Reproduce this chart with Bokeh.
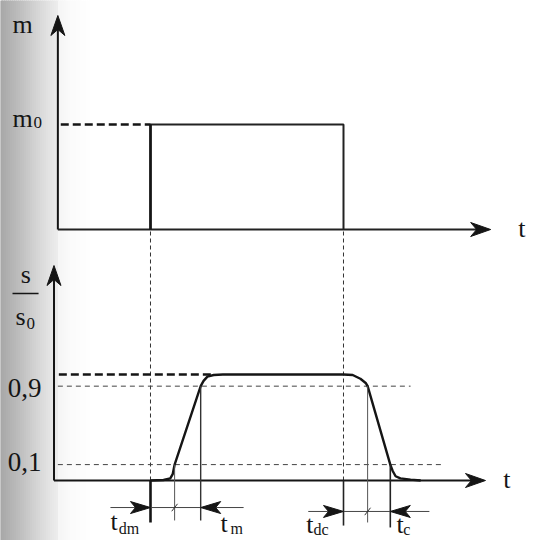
import numpy as np
from bokeh.plotting import figure
from bokeh.models import Range1d
from bokeh.core.properties import value
from bokeh.embed import file_html
from bokeh.resources import INLINE

# ---------------- data (time in arbitrary units) ----------------
t_on = 20.0          # command switched on
t_off = 60.0         # command switched off
m_pulse_t = [20.0, 20.0, 60.0, 60.0]
m_pulse_v = [0.0, 1.0, 1.0, 0.0]

# normalised response s/s0
s_t = [20.0, 22.7, 24.1, 24.6, 25.0, 30.4, 31.0, 31.8, 33.1, 35.0,
       60.0, 61.9, 63.5, 64.6, 65.0, 69.7, 70.2, 70.8, 71.8, 73.9, 76.0]
s_v = [0.0, 0.005, 0.02, 0.06, 0.15, 0.89, 0.94, 0.98, 0.995, 1.0,
       1.0, 0.995, 0.96, 0.92, 0.89, 0.15, 0.09, 0.04, 0.02, 0.008, 0.0]

level_lo, level_hi = 0.15, 0.89
level_labels = ["0,1", "0,9"]
t_rise10, t_rise90 = 25.0, 30.4
t_fall90, t_fall10 = 65.0, 69.7

# ---------------- ranges ----------------
W, H = 536, 540
X_START, X_END = -11.088, 100.0
S_START, S_END = -0.5660, 4.5283
M_START, M_END = -2.9619, 2.1810
SX = W / (X_END - X_START)
SY_S = H / (S_END - S_START)
SY_M = H / (M_END - M_START)

FONT = value("Liberation Serif")
INK = "#151515"

p = figure(width=W, height=H, x_range=Range1d(X_START, X_END),
           y_range=Range1d(S_START, S_END), output_backend="svg",
           toolbar_location=None, min_border=0,
           x_axis_type=None, y_axis_type=None)
p.extra_y_ranges = {"m": Range1d(M_START, M_END)}
p.outline_line_color = None
p.background_fill_color = "white"
p.border_fill_color = "white"

# ---------------- left grey shading (scan artefact) ----------------
def px_to_t(px):
    return X_START + px / SX

gx = np.arange(0, 92, 2)
gval = np.interp(gx, [0, 20, 35, 50, 56, 58, 70, 90], [168, 192, 212, 230, 236, 246, 251, 255])
cols = ["#%02x%02x%02x" % (int(g), int(g), int(g)) for g in gval]
p.quad(left=[px_to_t(a) for a in gx], right=[px_to_t(a + 2) for a in gx],
       bottom=S_START, top=S_END, fill_color=cols, line_color=cols, line_width=1)


def head(tx, ty, ux, uy, sy, rng="default", L=20, Wd=7, N=6, color=INK):
    bx, by = -ux, -uy
    qx, qy = -uy, ux
    pts = [(0, 0), (bx * L + qx * Wd, by * L + qy * Wd),
           (bx * (L - N), by * (L - N)), (bx * L - qx * Wd, by * L - qy * Wd)]
    xs = [tx + a / SX for a, b in pts]
    ys = [ty + b / sy for a, b in pts]
    p.patch(xs, ys, fill_color=color, line_color=color, line_width=1, y_range_name=rng)


# ---------------- top panel: command m ----------------
top_axis_t = 0.8
top_arrow_t = 90.5
top_arrow_m = 2.038
p.line([top_axis_t, top_axis_t], [0, top_arrow_m - 0.12], line_width=2, color=INK, y_range_name="m")
head(top_axis_t, top_arrow_m, 0, 1, SY_M, "m", L=20, Wd=7, N=6)
p.line([top_axis_t, top_arrow_t - 2], [0, 0], line_width=2, color="#222222", y_range_name="m")
head(top_arrow_t, 0, 1, 0, SY_M, "m", L=20, Wd=7, N=6)
p.line(m_pulse_t, m_pulse_v, line_width=2, color="#222222", y_range_name="m")
p.line([t_on, t_on], [0, 1], line_width=2.6, color=INK, y_range_name="m")
p.line([1.4, t_on], [1, 1], line_width=2.6, color=INK, line_dash="8 4", y_range_name="m")

# dashed connectors between panels
s_top0 = S_START + (0 - M_START) / (M_END - M_START) * (S_END - S_START)
for tt in (t_on, t_off):
    p.line([tt, tt], [0, s_top0], line_width=1, color="#333333", line_dash="4 3")

# ---------------- bottom panel: response s/s0 ----------------
bot_axis_t = 0.0
bot_arrow_t = 89.43
bot_arrow_s = 2.028
p.line([bot_axis_t, bot_axis_t], [0, bot_arrow_s - 0.12], line_width=2, color=INK)
head(bot_axis_t, bot_arrow_s, 0, 1, SY_S, L=20, Wd=7, N=6)
p.line([bot_axis_t, bot_arrow_t - 2], [0, 0], line_width=2.2, color=INK)
head(bot_arrow_t, 0, 1, 0, SY_S, L=20, Wd=7, N=6)

# reference levels
p.line([1.0, 33.0], [1.0, 1.0], line_width=2.4, color=INK, line_dash="8 4")
p.line([0.8, 73.9], [level_hi, level_hi], line_width=1, color="#444444", line_dash="5 4")
p.line([0.8, 80.5], [level_lo, level_lo], line_width=1, color="#444444", line_dash="5 4")

# response curve
p.line(s_t, s_v, line_width=2.4, color=INK)

# vertical marker lines
p.line([t_on, t_on], [0, -0.396], line_width=2.6, color=INK)
p.line([t_rise10, t_rise10], [level_lo, -0.377], line_width=1, color="#555555")
p.line([t_rise90, t_rise90], [level_hi, -0.377], line_width=1.4, color="#333333")
p.line([t_off, t_off], [0, -0.425], line_width=1.6, color="#222222")
p.line([t_fall90, t_fall90], [level_hi, -0.396], line_width=1, color="#555555")
p.line([t_fall10, t_fall10], [level_lo, -0.443], line_width=1.6, color="#222222")

# measurement lines with arrows
yl, yr = -0.255, -0.292
p.line([11.7, 39.3], [yl, yl], line_width=1, color="#444444")
head(t_on, yl, 1, 0, SY_S, L=20, Wd=6, N=5)
head(t_rise90, yl, -1, 0, SY_S, L=20, Wd=6, N=5)
p.line([52.7, 77.8], [yr, yr], line_width=1, color="#444444")
head(t_off, yr, 1, 0, SY_S, L=20, Wd=6, N=5)
head(t_fall10, yr, -1, 0, SY_S, L=20, Wd=6, N=5)
for tt, yy in ((t_rise10, yl), (t_fall90, yr)):
    p.line([tt - 0.6, tt + 0.6], [yy - 0.035, yy + 0.035], line_width=1, color="#333333")

# fraction bar s / s0
p.line([-8.6, -3.2], [1.764, 1.764], line_width=1.5, color=INK)

# ---------------- texts ----------------
def txt(xs, ys, texts, size, rng="default"):
    p.text(x=xs, y=ys, text=texts, text_font=FONT, text_font_size=size,
           text_baseline="alphabetic", text_align="left", text_color=INK,
           y_offset=-9, y_range_name=rng)

txt([-8.6, -8.6, 96.2], [1.867, 0.971, -0.076], ["m", "m", "t"], "26px", "m")
txt([-4.25], [0.933], ["0"], "17px", "m")

txt([-6.9, -8.0, 93.1], [1.858, 1.462, -0.075], ["s", "s", "t"], "26px")
txt([-5.7], [1.396], ["0"], "17px")
txt([-9.6, -9.6], [0.094, 0.792], level_labels, "27px")

txt([11.7, 34.5, 52.3, 71.0], [-0.472, -0.491, -0.500, -0.500], ["t", "t", "t", "t"], "26px")
txt([13.4, 36.6, 53.8, 72.4], [-0.538, -0.538, -0.547, -0.547], ["dm", "m", "dc", "c"], "16px")

open("out.html", "w").write(file_html(p, INLINE))
